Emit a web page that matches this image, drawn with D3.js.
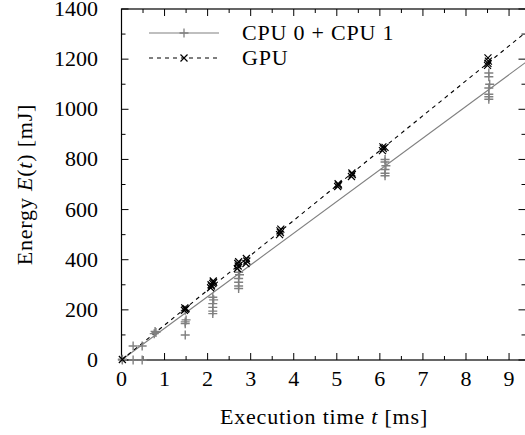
<!DOCTYPE html>
<html>
<head>
<meta charset="utf-8">
<script src="https://cdn.jsdelivr.net/npm/d3@7"></script>
<style>
  body { margin: 0; background: #fff; }
  svg { display: block; }
  text { font-family: 'Liberation Serif', 'DejaVu Serif', serif; fill: #000; }
</style>
</head>
<body>
<div id="chart"></div>
<script>
// values
var xTicks = [0, 1, 2, 3, 4, 5, 6, 7, 8, 9],
  yTicks = [0, 200, 400, 600, 800, 1000, 1200, 1400];

// CPU 0 + CPU 1 samples [t ms, E mJ]
var cpuPoints = [
  [0.02, 0], [0.02, 3], [0.27, 0], [0.27, 56], [0.48, 0], [0.48, 56],
  [0.76, 105], [0.80, 110], [0.78, 114],
  [1.48, 100], [1.48, 145], [1.48, 152], [1.50, 160], [1.48, 198],
  [2.12, 185], [2.12, 195], [2.12, 210], [2.12, 225], [2.14, 240], [2.12, 250],
  [2.72, 285], [2.72, 295], [2.72, 310], [2.72, 325], [2.74, 340], [2.72, 350],
  [6.12, 735], [6.12, 745], [6.12, 760], [6.14, 775], [6.12, 790], [6.12, 800],
  [8.53, 1040], [8.53, 1050], [8.53, 1060], [8.53, 1085], [8.55, 1100], [8.53, 1130], [8.53, 1145]
];
// GPU samples [t ms, E mJ]
var gpuPoints = [
  [0.02, 2],
  [1.46, 198], [1.48, 202], [1.50, 205], [1.47, 208],
  [2.07, 288], [2.09, 295], [2.08, 300], [2.12, 305], [2.14, 310], [2.13, 315],
  [2.69, 365], [2.71, 375], [2.70, 385], [2.72, 392], [2.89, 385], [2.91, 395], [2.90, 405],
  [3.67, 500], [3.69, 508], [3.68, 515], [3.70, 522],
  [5.02, 692], [5.04, 698], [5.03, 703],
  [5.34, 732], [5.36, 740], [5.35, 746],
  [6.06, 835], [6.08, 843], [6.07, 850], [6.12, 848],
  [8.50, 1175], [8.51, 1183], [8.52, 1192], [8.51, 1205]
];
// fitted lines, end points
var cpuFit = [[0, 0], [9.41, 1190]],
  gpuFit = [[0, 0], [9.41, 1310]];

var legendNames = ['CPU 0 + CPU 1', 'GPU'];

var width = 525, height = 435,
  pLeft = 121.5, pRight = 526.5, pTop = 9, pBottom = 360;

var svg = d3.select('#chart').append('svg')
  .attr('width', width)
  .attr('height', height);

var x = d3.scaleLinear().domain([0, 9.405]).range([pLeft, pRight]);
var y = d3.scaleLinear().domain([0, 1400]).range([pBottom, pTop]);

// inward ticks on all four sides
var halfX = d3.range(0, 9.5, 0.5), halfY = d3.range(0, 1401, 100);
var tickG = svg.append('g').attr('stroke', '#000').attr('stroke-width', 1);
halfX.forEach(function(v) {
  var len = (v % 1 === 0) ? 7 : 4;
  tickG.append('line').attr('x1', x(v)).attr('x2', x(v)).attr('y1', pBottom).attr('y2', pBottom - len);
  tickG.append('line').attr('x1', x(v)).attr('x2', x(v)).attr('y1', pTop).attr('y2', pTop + len);
});
halfY.forEach(function(v) {
  var len = (v % 200 === 0) ? 7 : 4;
  tickG.append('line').attr('x1', pLeft).attr('x2', pLeft + len).attr('y1', y(v)).attr('y2', y(v));
  tickG.append('line').attr('x1', pRight).attr('x2', pRight - len - 1).attr('y1', y(v)).attr('y2', y(v));
});

svg.append('rect')
  .attr('x', pLeft).attr('y', pTop)
  .attr('width', pRight - pLeft).attr('height', pBottom - pTop)
  .attr('fill', 'none').attr('stroke', '#000').attr('stroke-width', 1.2);

// tick labels
svg.append('g').selectAll('text')
  .data(xTicks).enter().append('text')
  .attr('x', function(d) { return x(d); })
  .attr('y', 386)
  .attr('text-anchor', 'middle')
  .style('font-size', '22px')
  .text(function(d) { return d; });

svg.append('g').selectAll('text')
  .data(yTicks).enter().append('text')
  .attr('x', 98)
  .attr('y', function(d) { return y(d) + 7; })
  .attr('text-anchor', 'end')
  .style('font-size', '22px')
  .text(function(d) { return d; });

// axis titles
var xl = svg.append('text')
  .attr('x', (pLeft + pRight) / 2)
  .attr('y', 424)
  .attr('text-anchor', 'middle')
  .style('font-size', '22px')
  .style('letter-spacing', '0.8px');
xl.append('tspan').text('Execution time ');
xl.append('tspan').style('font-style', 'italic').text('t');
xl.append('tspan').text(' [ms]');

var yl = svg.append('text')
  .attr('transform', 'translate(32,' + ((pTop + pBottom) / 2) + ') rotate(-90)')
  .attr('text-anchor', 'middle')
  .style('font-size', '22px')
  .style('letter-spacing', '0.8px');
yl.append('tspan').text('Energy ');
yl.append('tspan').style('font-style', 'italic').text('E');
yl.append('tspan').text('(');
yl.append('tspan').style('font-style', 'italic').text('t');
yl.append('tspan').text(') [mJ]');

// plot area
var plot = svg.append('g');

var line = d3.line()
  .x(function(d) { return x(d[0]); })
  .y(function(d) { return y(d[1]); });

plot.append('path').datum(cpuFit)
  .attr('d', line).attr('fill', 'none')
  .attr('stroke', '#808080').attr('stroke-width', 1.1);
plot.append('path').datum(gpuFit)
  .attr('d', line).attr('fill', 'none')
  .attr('stroke', '#000').attr('stroke-width', 1.1)
  .attr('stroke-dasharray', '4,4');

var plusPath = 'M-4.5,0H4.5M0,-4.5V4.5';
var crossPath = 'M-3.5,-3.5L3.5,3.5M-3.5,3.5L3.5,-3.5';

plot.selectAll('.cpu')
  .data(cpuPoints).enter().append('path')
  .attr('class', 'cpu')
  .attr('transform', function(d) { return 'translate(' + x(d[0]) + ',' + y(d[1]) + ')'; })
  .attr('d', plusPath)
  .attr('stroke', '#808080').attr('stroke-width', 1.4);

plot.selectAll('.gpu')
  .data(gpuPoints).enter().append('path')
  .attr('class', 'gpu')
  .attr('transform', function(d) { return 'translate(' + x(d[0]) + ',' + y(d[1]) + ')'; })
  .attr('d', crossPath)
  .attr('stroke', '#000').attr('stroke-width', 1.2);

// legend
var legend = svg.append('g');
legendNames.forEach(function(name, i) {
  var ly = 33 + i * 25;
  var row = legend.append('g');
  row.append('line')
    .attr('x1', 149).attr('x2', 219).attr('y1', ly).attr('y2', ly)
    .attr('stroke', i === 0 ? '#808080' : '#000')
    .attr('stroke-width', 1.1)
    .attr('stroke-dasharray', i === 0 ? null : '4,4');
  row.append('path')
    .attr('transform', 'translate(184,' + ly + ')')
    .attr('d', i === 0 ? plusPath : crossPath)
    .attr('stroke', i === 0 ? '#808080' : '#000')
    .attr('stroke-width', i === 0 ? 1.3 : 1.2);
  row.append('text')
    .attr('x', 242).attr('y', ly + 7)
    .style('font-size', '22px')
    .style('letter-spacing', '0.8px')
    .text(name);
});
</script>
</body>
</html>
